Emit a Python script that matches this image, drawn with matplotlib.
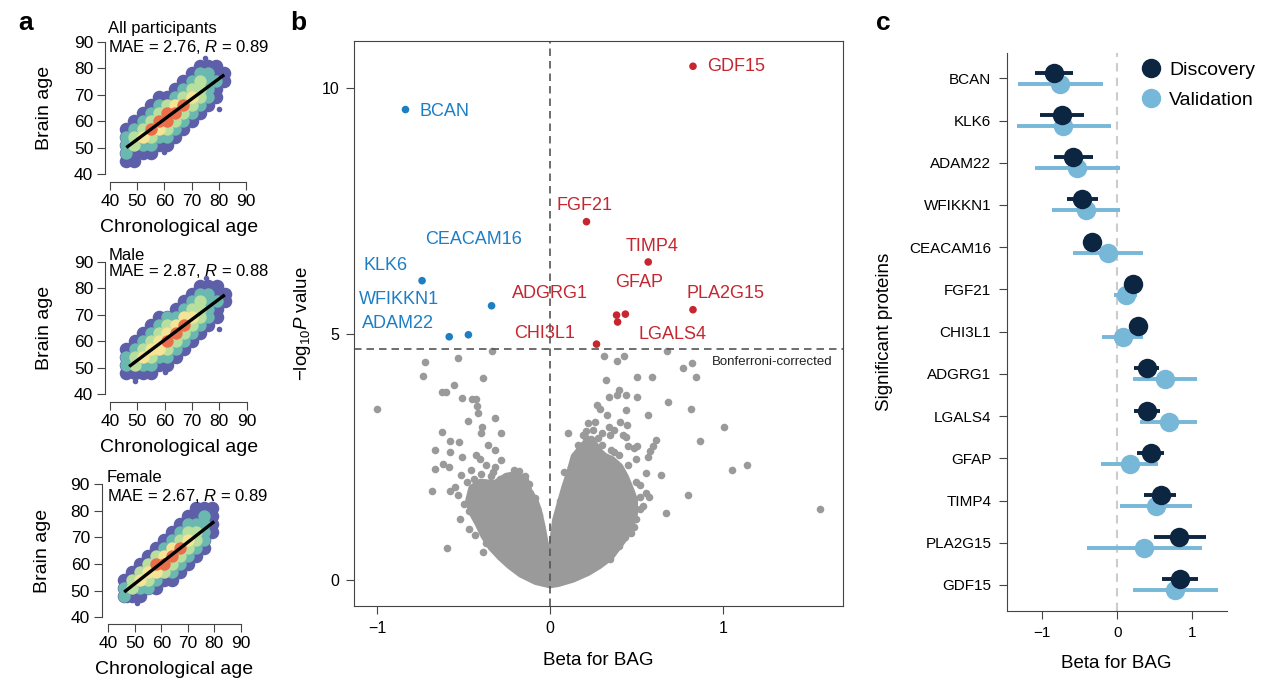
import matplotlib.pyplot as plt
import numpy as np
from matplotlib.lines import Line2D
from matplotlib.patches import Polygon

plt.rcParams['font.family'] = ['Liberation Sans', 'DejaVu Sans']
plt.rcParams['mathtext.fontset'] = 'custom'
plt.rcParams['mathtext.rm'] = 'Liberation Sans'
plt.rcParams['mathtext.it'] = 'Liberation Sans:italic'

W, H = 1280, 696

# ---------------- panel a: brain age vs chronological age (binned density level 0-5)
chrono_bins = [46, 49, 52, 55, 58, 61, 64, 67, 70, 73, 76, 79, 82]
brain_bins = [84, 81, 78, 75, 72, 69, 66, 63, 60, 57, 54, 51, 48, 45]

density_all = [
    [0, 0, 0, 0, 0, 0, 0, 0, 0, 0, 0, 0, 0],
    [0, 0, 0, 0, 0, 0, 0, 0, 0, 1, 1, 1, 0],
    [0, 0, 0, 0, 0, 0, 0, 0, 1, 2, 2, 1, 1],
    [0, 0, 0, 0, 0, 0, 0, 1, 2, 3, 2, 2, 1],
    [0, 0, 0, 0, 0, 0, 1, 2, 3, 3, 2, 1, 0],
    [0, 0, 0, 0, 1, 1, 2, 3, 4, 3, 2, 1, 0],
    [0, 0, 0, 1, 2, 3, 4, 5, 3, 2, 1, 0, 0],
    [0, 0, 1, 2, 3, 5, 5, 3, 2, 1, 0, 0, 0],
    [0, 1, 2, 3, 5, 5, 3, 2, 1, 0, 0, 0, 0],
    [1, 2, 3, 5, 4, 3, 2, 1, 0, 0, 0, 0, 0],
    [2, 3, 4, 3, 2, 2, 1, 0, 0, 0, 0, 0, 0],
    [2, 3, 2, 2, 1, 1, 0, 0, 0, 0, 0, 0, 0],
    [2, 1, 1, 1, 0, 0, 0, 0, 0, 0, 0, 0, 0],
    [1, 1, 0, 0, 0, 0, 0, 0, 0, 0, 0, 0, 0],
]
density_male = [
    [0, 0, 0, 0, 0, 0, 0, 0, 0, 0, 0, 0, 0],
    [0, 0, 0, 0, 0, 0, 0, 0, 0, 1, 1, 1, 0],
    [0, 0, 0, 0, 0, 0, 0, 0, 1, 2, 2, 1, 1],
    [0, 0, 0, 0, 0, 0, 0, 1, 2, 3, 2, 2, 1],
    [0, 0, 0, 0, 0, 0, 1, 2, 3, 3, 2, 1, 0],
    [0, 0, 0, 0, 1, 2, 2, 4, 4, 3, 2, 1, 0],
    [0, 0, 0, 1, 2, 3, 4, 5, 3, 2, 1, 0, 0],
    [0, 0, 1, 2, 3, 4, 5, 3, 2, 1, 0, 0, 0],
    [0, 1, 2, 3, 4, 5, 3, 2, 1, 0, 0, 0, 0],
    [1, 2, 3, 4, 4, 3, 2, 1, 0, 0, 0, 0, 0],
    [2, 3, 4, 3, 2, 2, 1, 0, 0, 0, 0, 0, 0],
    [2, 3, 2, 2, 1, 1, 0, 0, 0, 0, 0, 0, 0],
    [1, 1, 1, 1, 0, 0, 0, 0, 0, 0, 0, 0, 0],
    [0, 0, 0, 0, 0, 0, 0, 0, 0, 0, 0, 0, 0],
]
density_female = [
    [0, 0, 0, 0, 0, 0, 0, 0, 0, 0, 0, 0, 0],
    [0, 0, 0, 0, 0, 0, 0, 0, 0, 1, 1, 1, 0],
    [0, 0, 0, 0, 0, 0, 0, 0, 1, 1, 2, 1, 0],
    [0, 0, 0, 0, 0, 0, 0, 1, 2, 2, 2, 1, 0],
    [0, 0, 0, 0, 0, 0, 1, 2, 3, 3, 2, 1, 0],
    [0, 0, 0, 0, 0, 1, 2, 3, 4, 3, 2, 0, 0],
    [0, 0, 0, 0, 1, 2, 4, 5, 3, 2, 1, 0, 0],
    [0, 0, 0, 1, 3, 4, 5, 3, 2, 1, 0, 0, 0],
    [0, 0, 1, 3, 5, 5, 3, 2, 1, 0, 0, 0, 0],
    [0, 1, 3, 4, 4, 3, 2, 1, 0, 0, 0, 0, 0],
    [1, 3, 4, 3, 2, 1, 1, 0, 0, 0, 0, 0, 0],
    [2, 3, 2, 2, 1, 0, 0, 0, 0, 0, 0, 0, 0],
    [2, 1, 1, 0, 0, 0, 0, 0, 0, 0, 0, 0, 0],
    [0, 0, 0, 0, 0, 0, 0, 0, 0, 0, 0, 0, 0],
]
outlier_all_x = [75, 80, 49, 47, 60]
outlier_all_y = [84, 64.5, 45.5, 47, 48.5]
outlier_male_x = [75, 80, 49, 60, 47]
outlier_male_y = [84, 64.5, 45, 48.5, 58.5]
outlier_female_x = [51, 47]
outlier_female_y = [45.5, 46.5]

fit_all_x, fit_all_y = [46, 82], [50, 77.5]
fit_male_x, fit_male_y = [47, 82], [50.5, 77.5]
fit_female_x, fit_female_y = [46, 80], [49.5, 76]

group_names = ['All participants', 'Male', 'Female']
group_mae = [2.76, 2.87, 2.67]
group_r = [0.89, 0.88, 0.89]

# ---------------- panel b: volcano
sig_genes = ['GDF15', 'BCAN', 'FGF21', 'TIMP4', 'KLK6', 'CEACAM16', 'PLA2G15',
             'GFAP', 'ADGRG1', 'LGALS4', 'ADAM22', 'WFIKKN1', 'CHI3L1']
sig_beta = [0.827, -0.836, 0.211, 0.568, -0.740, -0.338, 0.827,
            0.436, 0.385, 0.391, -0.583, -0.472, 0.269]
sig_logp = [10.45, 9.57, 7.29, 6.47, 6.09, 5.58, 5.50,
            5.41, 5.39, 5.25, 4.95, 4.99, 4.80]
label_x = [0.908, -0.754, 0.202, 0.590, -0.952, -0.444, 1.016,
           0.516, -0.002, 0.709, -0.878, -0.871, -0.030]
label_y = [10.45, 9.54, 7.61, 6.78, 6.39, 6.92, 5.83,
           6.05, 5.83, 5.00, 5.22, 5.70, 5.01]

gray_beta = [-0.338, -0.722, -0.535, -0.733, -0.385, -0.558, -1.0, -0.623, -0.602,
             -0.509, -0.450, -0.428, -0.417, -0.477, -0.320, -0.395, -0.626, -0.286,
             -0.579, -0.524, -0.665, -0.579, -0.509, -0.406, -0.317, -0.284, -0.621,
             -0.585, -0.663, -0.457, -0.317, -0.515, -0.344, -0.227, -0.178, -0.146,
             -0.680, -0.581, -0.530, -0.118, -0.086, -0.466, -0.146, -0.064, -0.434,
             -0.594, -0.387, -0.327, -0.273, -0.42, -0.40, -0.36, -0.43, -0.48, -0.37,
             -0.25, -0.50, -0.52, -0.47, -0.44, -0.40, -0.33, -0.29, -0.21, -0.18,
             -0.12, -0.10, -0.06, -0.37, -0.30, -0.41, -0.55, -0.36,
             0.314, 0.388, 0.426, 0.678, 0.768, 0.821, 0.501, 0.591, 0.847, 0.325,
             0.102, 0.207, 0.271, 0.288, 0.260, 0.342, 0.399, 0.385, 0.442, 0.502,
             0.438, 0.402, 0.447, 0.340, 0.346, 0.438, 0.566, 0.681, 0.814, 1.008,
             0.866, 0.613, 0.598, 0.449, 0.485, 0.506, 0.564, 0.581, 0.495, 1.051,
             1.142, 0.641, 0.555, 0.523, 0.555, 0.574, 0.799, 0.523, 0.538, 0.670,
             1.564, 0.463, 0.485, 0.431, 0.346, 0.303, 0.260, 0.192, 0.149, 0.164,
             0.139, 0.207, 0.182, 0.239, 0.30, 0.37, 0.28, 0.22, 0.33,
             0.10, 0.12, 0.16, 0.19, 0.25, 0.30, 0.35, 0.40, 0.45, 0.50, 0.52,
             0.50, 0.47, 0.40, 0.36, 0.08, 0.06, 0.04, 0.42, 0.37]
gray_logp = [4.67, 4.44, 4.51, 4.15, 4.11, 3.97, 3.48, 3.83, 3.83,
             3.71, 3.68, 3.68, 3.39, 3.24, 3.29, 3.12, 3.02, 2.99,
             2.83, 2.80, 2.65, 2.60, 2.51, 2.46, 2.65, 2.44, 2.36,
             2.31, 2.27, 2.24, 2.31, 2.13, 2.11, 2.12, 2.22, 2.12,
             1.82, 1.82, 1.74, 1.77, 1.67, 1.40, 1.50, 1.33, 0.92,
             0.65, 0.58, 0.65, 0.45, 3.55, 3.00, 2.75, 2.55, 2.00, 2.35,
             1.95, 1.55, 1.25, 1.05, 2.05, 2.15, 2.20, 2.05, 2.25, 1.85,
             1.95, 1.30, 0.95, 0.75, 0.55, 1.60, 1.90, 1.85,
             4.55, 4.46, 4.55, 4.67, 4.32, 4.42, 4.13, 4.13, 4.13, 4.07,
             2.99, 3.04, 3.56, 3.49, 3.22, 3.73, 3.87, 3.77, 3.77, 3.73,
             3.46, 3.22, 3.15, 3.12, 2.95, 2.92, 3.36, 3.62, 3.49, 3.11,
             2.82, 2.85, 2.73, 2.73, 2.68, 2.72, 2.51, 2.63, 2.46, 2.24,
             2.34, 2.13, 2.17, 1.94, 1.77, 1.70, 1.73, 1.45, 1.50, 1.36,
             1.45, 1.19, 1.09, 0.88, 0.43, 0.53, 0.30, 0.22, 0.24, 2.48,
             2.44, 2.89, 2.61, 2.87, 3.00, 2.60, 2.90, 3.20, 3.35,
             1.95, 2.30, 2.75, 2.95, 3.05, 2.75, 2.65, 2.55, 2.35, 2.00, 1.70,
             1.25, 0.95, 0.70, 0.55, 2.20, 1.60, 1.10, 2.95, 3.05]

# outline of the solid core of non-significant proteins
core_beta = [0.0, -0.081, -0.167, -0.231, -0.284, -0.338, -0.380, -0.412, -0.449,
             -0.466, -0.449, -0.402, -0.316, -0.252, -0.199, -0.145, -0.124, -0.092,
             -0.071, -0.049, -0.028, -0.013, 0.0, 0.015, 0.036, 0.068, 0.090, 0.122,
             0.143, 0.175, 0.207, 0.250, 0.282, 0.314, 0.357, 0.400, 0.432, 0.464,
             0.485, 0.485, 0.464, 0.432, 0.389, 0.346, 0.282, 0.218, 0.132, 0.047]
core_logp = [-0.081, -0.014, 0.135, 0.305, 0.474, 0.678, 0.915, 1.152, 1.389,
             1.626, 1.863, 1.978, 1.951, 2.100, 2.134, 2.033, 1.795, 1.626,
             1.423, 1.084, 0.678, 0.339, 0.135, 0.678, 1.220, 1.626, 1.897, 2.236,
             2.507, 2.642, 2.778, 2.778, 2.608, 2.507, 2.439, 2.304, 2.100, 1.829,
             1.626, 1.355, 1.084, 0.881, 0.678, 0.474, 0.305, 0.169, 0.034, -0.054]
bonferroni = 4.70

# ---------------- panel c: forest plot
proteins = ['BCAN', 'KLK6', 'ADAM22', 'WFIKKN1', 'CEACAM16', 'FGF21', 'CHI3L1',
            'ADGRG1', 'LGALS4', 'GFAP', 'TIMP4', 'PLA2G15', 'GDF15']
disc_beta = [-0.84, -0.742, -0.586, -0.475, -0.342, 0.214, 0.280,
             0.392, 0.401, 0.446, 0.579, 0.828, 0.837]
disc_lo = [-1.10, -1.031, -0.840, -0.675, -0.45, 0.13, 0.19,
           0.228, 0.228, 0.259, 0.357, 0.490, 0.592]
disc_hi = [-0.59, -0.444, -0.320, -0.262, -0.24, 0.28, 0.34,
           0.558, 0.570, 0.628, 0.788, 1.179, 1.081]
val_beta = [-0.764, -0.720, -0.542, -0.417, -0.120, 0.112, 0.072,
            0.636, 0.694, 0.169, 0.517, 0.357, 0.770]
val_lo = [-1.33, -1.333, -1.102, -0.871, -0.586, -0.044, -0.198,
          0.213, 0.302, -0.222, 0.040, -0.399, 0.206]
val_hi = [-0.188, -0.089, 0.034, 0.040, 0.347, 0.267, 0.339,
          1.066, 1.066, 0.539, 0.994, 1.126, 1.339]

LEVEL_COLORS = ['#5d5fa8', '#6ab8b0', '#b8df9e', '#f5e496', '#eb6e4b']
BLUE, RED, GREY = '#1c7fc5', '#c5262f', '#9a9a9a'
NAVY, LIGHT = '#0c2540', '#77b7d8'
AX = '#444444'


def px_axes(fig, l, t, r, b):
    return fig.add_axes([l / W, 1 - b / H, (r - l) / W, (b - t) / H])


fig = plt.figure(figsize=(W / 100, H / 100), dpi=100)

# ---- panel a
a_boxes = [(105, 35.1, 253, 181.7), (105, 255.1, 253, 401.7), (101.7, 477.7, 247.3, 623.7)]
a_xlims = [(38.16, 92.57), (38.17, 92.31), (37.51, 92.49)]
a_ylims = [(37.09, 92.49), (37.21, 92.49), (37.59, 92.48)]
a_text_pos = [(108.3, 33.3, 51.7), (108.3, 260, 275.7), (106.7, 481.7, 500.7)]
densities = [density_all, density_male, density_female]
outliers = [(outlier_all_x, outlier_all_y), (outlier_male_x, outlier_male_y),
            (outlier_female_x, outlier_female_y)]
fits = [(fit_all_x, fit_all_y), (fit_male_x, fit_male_y), (fit_female_x, fit_female_y)]

cx, by = np.meshgrid(chrono_bins, brain_bins)
for i in range(3):
    ax = px_axes(fig, *a_boxes[i])
    lev = np.array(densities[i])
    ox, oy = outliers[i]
    ax.scatter(ox, oy, s=16, color=LEVEL_COLORS[0], lw=0)
    # outer fringe underneath everything, then denser levels on top
    m = lev > 0
    ax.scatter(cx[m], by[m], s=95, color=LEVEL_COLORS[0], lw=0)
    for k in range(2, 6):
        m = lev == k
        ax.scatter(cx[m], by[m], s=80, color=LEVEL_COLORS[k - 1], lw=0)
    ax.plot(fits[i][0], fits[i][1], color='black', lw=2.4, solid_capstyle='butt')
    ax.set_xlim(*a_xlims[i])
    ax.set_ylim(*a_ylims[i])
    ax.set_xticks([40, 50, 60, 70, 80, 90])
    ax.set_yticks([40, 50, 60, 70, 80, 90])
    for s in ['top', 'right']:
        ax.spines[s].set_visible(False)
    for s in ['left', 'bottom']:
        ax.spines[s].set_bounds(40, 90)
        ax.spines[s].set_color(AX)
    ax.tick_params(length=5.5, color=AX, labelsize=12.5, pad=3)
    ax.set_ylabel('Brain age', fontsize=14)
    ax.set_xlabel('Chronological age', fontsize=14)
    ax.yaxis.set_label_coords(-0.35, 0.5)
    ax.xaxis.set_label_coords(0.5, -0.255)
    tx, t1, t2 = a_text_pos[i]
    fig.text(tx / W, 1 - t1 / H, group_names[i], fontsize=12, va='baseline')
    fig.text(tx / W, 1 - t2 / H,
             'MAE = %.2f, $\\it{R}$ = %.2f' % (group_mae[i], group_r[i]),
             fontsize=12, va='baseline')

# ---- panel b
axb = px_axes(fig, 354.3, 40.7, 842.7, 606)
axb.add_patch(Polygon(np.column_stack([core_beta, core_logp]), closed=True,
                      facecolor=GREY, edgecolor=GREY, lw=6, joinstyle='round'))
axb.scatter(gray_beta, gray_logp, s=30, color=GREY, lw=0)
axb.axvline(0, color='#555555', lw=1.2, ls=(0, (4.5, 3)))
axb.axhline(bonferroni, color='#555555', lw=1.2, ls=(0, (4.5, 3)))
sig_colors = [RED if b > 0 else BLUE for b in sig_beta]
axb.scatter(sig_beta, sig_logp, s=30, color=sig_colors, lw=0, zorder=3)
for g, x, y, c in zip(sig_genes, label_x, label_y, sig_colors):
    ha = 'left' if g in ('GDF15', 'BCAN') else 'center'
    axb.text(x, y, g, color=c, fontsize=13, ha=ha, va='center')
axb.text(1.635, 4.44, 'Bonferroni-corrected', fontsize=9.5, ha='right', va='center',
         color='#222222')
axb.set_xlim(-1.132, 1.693)
axb.set_ylim(-0.525, 10.97)
axb.set_xticks([-1, 0, 1])
axb.set_xticklabels(['\u22121', '0', '1'])
axb.set_yticks([0, 5, 10])
for s in axb.spines.values():
    s.set_color(AX)
axb.tick_params(length=6, color=AX, labelsize=11.5, pad=5)
axb.set_xlabel('Beta for BAG', fontsize=13.5)
axb.set_ylabel('\u2212log$_{10}$$\\it{P}$ value', fontsize=13.5)
axb.xaxis.set_label_coords(0.5, -0.081)
axb.yaxis.set_label_coords(-0.085, 0.5)

# ---- panel c
axc = px_axes(fig, 1006.7, 53.3, 1226.7, 610.7)
ypos = np.arange(len(proteins))
off = 0.13
axc.axvline(0, color='#cccccc', lw=1.5, ls=(0, (4, 3)), zorder=0)
axc.hlines(ypos + off, val_lo, val_hi, color=LIGHT, lw=2.8)
axc.plot(val_beta, ypos + off, 'o', color=LIGHT, ms=14, mec='none', label='Validation')
axc.hlines(ypos - off, disc_lo, disc_hi, color=NAVY, lw=2.8)
axc.plot(disc_beta, ypos - off, 'o', color=NAVY, ms=14, mec='none', label='Discovery')
axc.set_yticks(ypos)
axc.set_yticklabels(proteins)
axc.set_ylim(12.61, -0.592)
axc.set_xlim(-1.475, 1.459)
axc.set_xticks([-1, 0, 1])
axc.set_xticklabels(['\u22121', '0', '1'])
for s in ['top', 'right']:
    axc.spines[s].set_visible(False)
for s in ['left', 'bottom']:
    axc.spines[s].set_color(AX)
axc.tick_params(length=6, color=AX, labelsize=11, pad=5)
axc.set_xlabel('Beta for BAG', fontsize=13.5)
axc.set_ylabel('Significant proteins', fontsize=13.5)
axc.xaxis.set_label_coords(0.5, -0.0795)
axc.yaxis.set_label_coords(-0.517, 0.5)
handles = [Line2D([], [], marker='o', ls='none', color=NAVY, ms=14, mec='none'),
           Line2D([], [], marker='o', ls='none', color=LIGHT, ms=14, mec='none')]
axc.legend(handles, ['Discovery', 'Validation'], loc='upper left',
           bbox_to_anchor=(0.575, 1.0), frameon=False, fontsize=14,
           handlelength=1.0, handletextpad=0.45, labelspacing=0.63, borderaxespad=0)

# ---- panel letters
for letter, x, y in [('a', 18, 30), ('b', 290, 30), ('c', 876, 30)]:
    fig.text(x / W, 1 - y / H, letter, fontsize=19, fontweight='bold', va='baseline')

fig.savefig('out.png', dpi=100)
